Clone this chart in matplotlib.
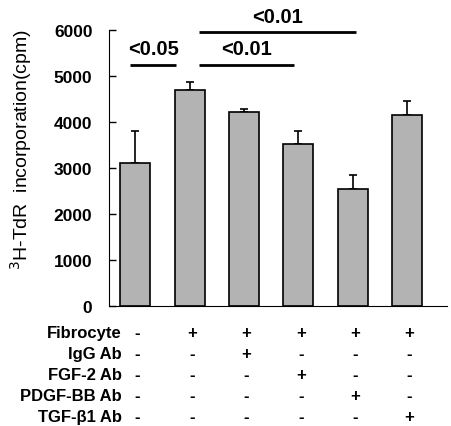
import matplotlib.pyplot as plt

plt.rcParams['font.family'] = ['Liberation Sans', 'DejaVu Sans']

# data
means = [3100, 4690, 4220, 3530, 2550, 4160]
errors = [700, 190, 70, 280, 300, 310]
yticks = [0, 1000, 2000, 3000, 4000, 5000, 6000]

row_labels = ['Fibrocyte', 'IgG Ab', 'FGF-2 Ab', 'PDGF-BB Ab', 'TGF-\u03b21 Ab']
table = [
    ['-', '+', '+', '+', '+', '+'],
    ['-', '-', '+', '-', '-', '-'],
    ['-', '-', '-', '+', '-', '-'],
    ['-', '-', '-', '-', '+', '-'],
    ['-', '-', '-', '-', '-', '+'],
]

# significance brackets: (x start, x end, y, label)
sig = [
    (-0.09, 0.75, 5250, '<0.05'),
    (1.18, 2.92, 5250, '<0.01'),
    (1.18, 4.06, 5950, '<0.01'),
]

fig = plt.figure(figsize=(4.51, 4.27), dpi=100)
ax = fig.add_axes([0.242, 0.281, 0.749, 0.646])

x = list(range(len(means)))
ax.bar(x, means, width=0.55, color='#b3b3b3', edgecolor='black',
       linewidth=1.2, zorder=2)
ax.errorbar(x, means, yerr=[[0] * len(errors), errors], fmt='none',
            ecolor='black', elinewidth=1.2, capsize=3, capthick=1.2, zorder=1)

for x0, x1, y, lab in sig:
    ax.plot([x0, x1], [y, y], color='black', lw=2, solid_capstyle='butt',
            clip_on=False)
    ax.text((x0 + x1) / 2, y + 140, lab, ha='center', va='bottom',
            fontsize=14.5, fontweight='bold', clip_on=False)

ax.set_xlim(-0.48, 5.73)
ax.set_ylim(0, 6000)
ax.set_yticks(yticks)
ax.set_yticklabels([str(t) for t in yticks], fontsize=12.5, fontweight='bold')
ax.set_xticks([])
ax.tick_params(axis='y', direction='in', length=5, width=1, pad=12)
ax.spines['top'].set_visible(False)
ax.spines['right'].set_visible(False)
ax.set_ylabel(r'$^{3}$H-TdR  incorporation(cpm)', fontsize=14)
ax.yaxis.set_label_coords(-0.222, 0.57)

# table of treatments below the axis
row_y = [334, 355, 376, 397, 418]
for ry, lab, signs in zip(row_y, row_labels, table):
    yf = 1 - ry / 427
    fig.text(122 / 451, yf, lab, ha='right', va='center', fontsize=12,
             fontweight='bold')
    for xi, s in zip(x, signs):
        xf = ax.transData.transform((xi, 0))[0] / fig.bbox.width
        fig.text(xf + 0.005, yf, s, ha='center', va='center', fontsize=12,
                 fontweight='bold')

fig.savefig('out.png', dpi=100)
